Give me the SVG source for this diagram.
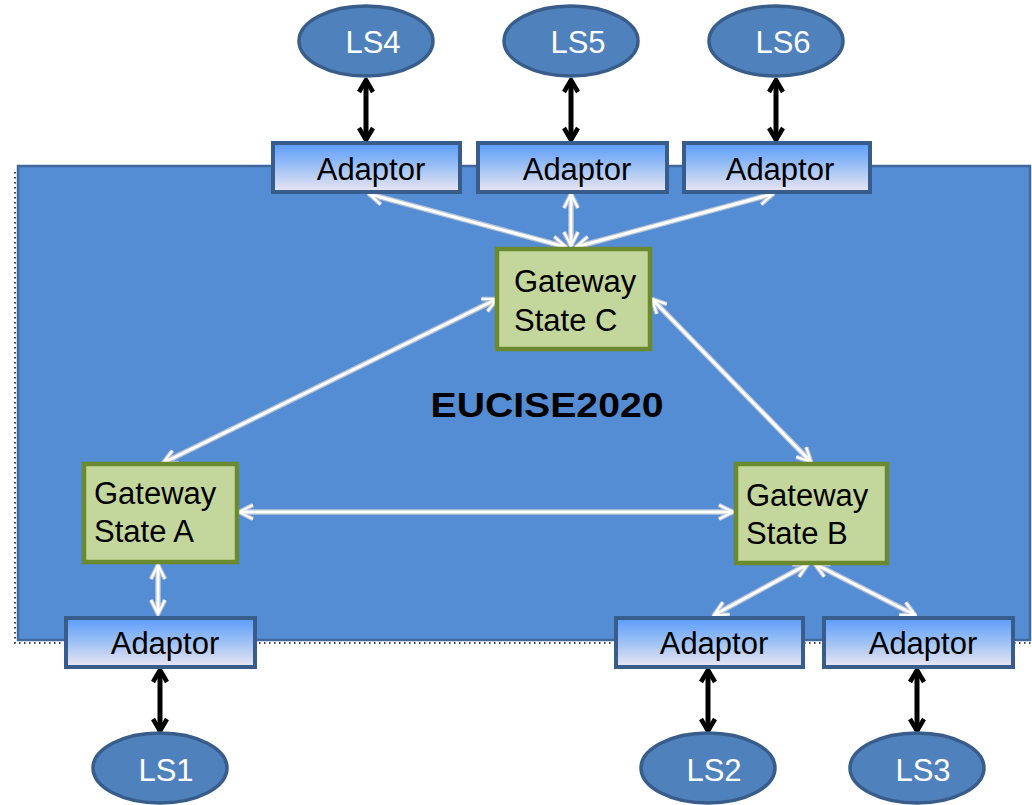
<svg xmlns="http://www.w3.org/2000/svg" xmlns:xlink="http://www.w3.org/1999/xlink" width="1032" height="805" viewBox="0 0 1032 805">
<style>
text{font-family:"Liberation Sans",Arial,sans-serif;font-size:31px}
.ls{fill:#ffffff;text-anchor:middle}
.ad{fill:#000;text-anchor:middle}
.gw{fill:#000}
.ell{fill:#4f81bd;stroke:#385d8a;stroke-width:3.5}
.adb{fill:url(#adg);stroke:#385d8a;stroke-width:4}
.gwb{fill:#c3d69b;stroke:#6b8a2f;stroke-width:4.5}
.blk{stroke:#000;stroke-width:5;fill:none;marker-start:url(#mb);marker-end:url(#mb)}
.wu{stroke:#b8c4d4;stroke-width:5.5;fill:none;marker-start:url(#mwu);marker-end:url(#mwu)}
.wo{stroke:#ffffff;stroke-width:3;fill:none;marker-start:url(#mw);marker-end:url(#mw)}
</style>
<defs>
<linearGradient id="adg" x1="0" y1="0" x2="0" y2="1">
<stop offset="0" stop-color="#5a9bfb"/>
<stop offset="0.5" stop-color="#9fc2f5"/>
<stop offset="1" stop-color="#ece6f2"/>
</linearGradient>
<marker id="mb" viewBox="0 0 16 18" refX="14" refY="9" markerWidth="16" markerHeight="18" markerUnits="userSpaceOnUse" orient="auto-start-reverse">
<path d="M2,2 L14,9 L2,16" fill="none" stroke="#000" stroke-width="4.5" stroke-linejoin="miter"/>
</marker>
<marker id="mwu" viewBox="0 0 18 18" refX="16" refY="9" markerWidth="18" markerHeight="18" markerUnits="userSpaceOnUse" orient="auto-start-reverse">
<path d="M2,2 L16,9 L2,16" fill="none" stroke="#b8c4d4" stroke-width="4.5"/>
</marker>
<marker id="mw" viewBox="0 0 18 18" refX="16" refY="9" markerWidth="18" markerHeight="18" markerUnits="userSpaceOnUse" orient="auto-start-reverse">
<path d="M2,2 L16,9 L2,16" fill="none" stroke="#ffffff" stroke-width="2.2"/>
</marker>
<path id="c1" d="M369,194 L566,247"/>
<path id="c2" d="M571,194 L571,246"/>
<path id="c3" d="M773,194 L576,247"/>
<path id="c4" d="M497,299 L163,463"/>
<path id="c5" d="M652,299 L811,462"/>
<path id="c6" d="M239,512 L733,512"/>
<path id="c7" d="M158,565 L158,614"/>
<path id="c8" d="M808,564 L714,615"/>
<path id="c9" d="M815,564 L915,615"/>
</defs>

<g id="eucise2020">
<path d="M15,172 V643 H1032" fill="none" stroke="#444" stroke-width="2" stroke-dasharray="1.5,3.5"/>
<rect x="18" y="166" width="1012" height="474" fill="#548dd4" stroke="#41689c" stroke-width="2.5"/>
<text x="547" y="417" textLength="233" lengthAdjust="spacingAndGlyphs" style="font-size:35px;font-weight:bold" text-anchor="middle" fill="#000">EUCISE2020</text>
</g>

<g id="connectors">
<path d="M366,80 L366,140" class="blk"/>
<path d="M571,80 L571,140" class="blk"/>
<path d="M776,80 L776,140" class="blk"/>
<path d="M160,670 L160,731" class="blk"/>
<path d="M708,670 L708,731" class="blk"/>
<path d="M917,670 L917,731" class="blk"/>
<use xlink:href="#c1" class="wu"/><use xlink:href="#c1" class="wo"/>
<use xlink:href="#c2" class="wu"/><use xlink:href="#c2" class="wo"/>
<use xlink:href="#c3" class="wu"/><use xlink:href="#c3" class="wo"/>
<use xlink:href="#c4" class="wu"/><use xlink:href="#c4" class="wo"/>
<use xlink:href="#c5" class="wu"/><use xlink:href="#c5" class="wo"/>
<use xlink:href="#c6" class="wu"/><use xlink:href="#c6" class="wo"/>
<use xlink:href="#c7" class="wu"/><use xlink:href="#c7" class="wo"/>
<use xlink:href="#c8" class="wu"/><use xlink:href="#c8" class="wo"/>
<use xlink:href="#c9" class="wu"/><use xlink:href="#c9" class="wo"/>
</g>

<g id="ls4"><ellipse cx="366" cy="41" rx="67" ry="35" class="ell"/><text x="373" y="53" class="ls">LS4</text></g>
<g id="ls5"><ellipse cx="571" cy="41" rx="67" ry="35" class="ell"/><text x="578" y="53" class="ls">LS5</text></g>
<g id="ls6"><ellipse cx="776" cy="41" rx="67" ry="35" class="ell"/><text x="783" y="53" class="ls">LS6</text></g>
<g id="ls1"><ellipse cx="160" cy="768" rx="67" ry="35" class="ell"/><text x="166" y="781" class="ls">LS1</text></g>
<g id="ls2"><ellipse cx="708" cy="768" rx="67" ry="35" class="ell"/><text x="714" y="781" class="ls">LS2</text></g>
<g id="ls3"><ellipse cx="917" cy="768" rx="67" ry="35" class="ell"/><text x="923" y="781" class="ls">LS3</text></g>

<g id="adaptor-ls4"><rect x="273" y="143" width="187" height="49" class="adb"/><text x="371" y="180" class="ad">Adaptor</text></g>
<g id="adaptor-ls5"><rect x="478" y="143" width="189" height="49" class="adb"/><text x="577" y="180" class="ad">Adaptor</text></g>
<g id="adaptor-ls6"><rect x="684" y="143" width="186" height="49" class="adb"/><text x="780" y="180" class="ad">Adaptor</text></g>
<g id="adaptor-ls1"><rect x="66" y="618" width="189" height="49" class="adb"/><text x="165" y="654" class="ad">Adaptor</text></g>
<g id="adaptor-ls2"><rect x="616" y="618" width="187" height="49" class="adb"/><text x="714" y="654" class="ad">Adaptor</text></g>
<g id="adaptor-ls3"><rect x="824" y="618" width="189" height="49" class="adb"/><text x="923" y="654" class="ad">Adaptor</text></g>

<g id="gateway-c"><rect x="497" y="249" width="153" height="100" class="gwb"/><text x="514" y="292" class="gw">Gateway</text><text x="514" y="331" class="gw">State C</text></g>
<g id="gateway-a"><rect x="84" y="464" width="153" height="98" class="gwb"/><text x="94" y="504" class="gw">Gateway</text><text x="94" y="542" class="gw">State A</text></g>
<g id="gateway-b"><rect x="736" y="464" width="151" height="99" class="gwb"/><text x="746" y="506" class="gw">Gateway</text><text x="746" y="544" class="gw">State B</text></g>
</svg>
